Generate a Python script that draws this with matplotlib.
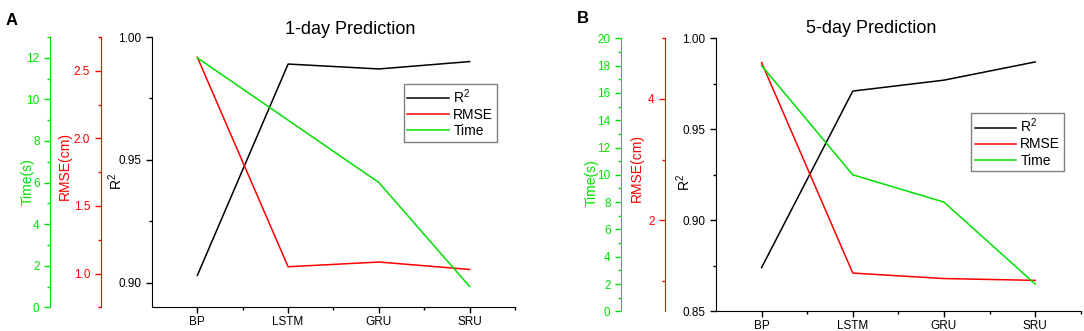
import matplotlib
matplotlib.use("Agg")
import matplotlib.pyplot as plt
from matplotlib.ticker import MultipleLocator, FixedLocator

plt.rcParams.update({"font.family": ["Liberation Sans", "DejaVu Sans"],
                     "mathtext.default": "regular"})

models = ["BP", "LSTM", "GRU", "SRU"]

# 1-day prediction
r2_1day = [0.903, 0.989, 0.987, 0.990]
rmse_1day = [2.60, 1.05, 1.085, 1.03]
time_1day = [12.0, 9.0, 6.0, 1.0]

# 5-day prediction
r2_5day = [0.874, 0.971, 0.977, 0.987]
rmse_5day = [4.60, 1.13, 1.04, 1.01]
time_5day = [18.0, 10.0, 8.0, 2.0]

GREEN = "#00e000"
RED = "#ff0000"

fig = plt.figure(figsize=(10.84, 3.31), dpi=100)


def panel(rect, r2, rmse, tm, r2lim, r2maj, rmselim, rmsemaj, tmlim, tmmaj,
          pos_red, pos_green, labx, title, title_xy, letter, letter_xy, leg_xy):
    ax = fig.add_axes(rect)
    x = list(range(len(models)))
    ax_r = ax.twinx()
    ax_t = ax.twinx()
    lr, = ax.plot(x, r2, color="black", lw=1.1, label="R$^2$")
    lm, = ax_r.plot(x, rmse, color=RED, lw=1.1, label="RMSE")
    lt, = ax_t.plot(x, tm, color=GREEN, lw=1.1, label="Time")

    ax.set_xlim(-0.5, 3.5)
    ax.set_xticks(x)
    ax.set_xticklabels(models)
    ax.xaxis.set_minor_locator(FixedLocator([0.5, 1.5, 2.5, 3.5]))
    ax.set_ylim(*r2lim)
    ax.yaxis.set_major_locator(MultipleLocator(r2maj))
    ax.yaxis.set_minor_locator(MultipleLocator(r2maj / 2))
    ax.yaxis.set_major_formatter(matplotlib.ticker.StrMethodFormatter("{x:.2f}"))
    for s in ("top", "right"):
        ax.spines[s].set_visible(False)
    ax.tick_params(axis="both", which="major", labelsize=8.5, length=4, width=1)
    ax.tick_params(axis="x", which="major", pad=2.5)
    ax.tick_params(axis="both", which="minor", length=2.5, width=1)
    ax.set_ylabel("R$^2$", fontsize=10)
    ax.yaxis.set_label_coords(labx[2], labx[5])

    for a, pos, col, lim, maj, lab, lx, ly in (
            (ax_r, pos_red, RED, rmselim, rmsemaj, "RMSE(cm)", labx[1], labx[4]),
            (ax_t, pos_green, GREEN, tmlim, tmmaj, "Time(s)", labx[0], labx[3])):
        a.set_ylim(*lim)
        for s in ("top", "right", "bottom"):
            a.spines[s].set_visible(False)
        a.spines["left"].set_visible(True)
        a.spines["left"].set_position(("axes", pos))
        a.spines["left"].set_color(col)
        a.yaxis.set_ticks_position("left")
        a.yaxis.set_label_position("left")
        a.yaxis.set_major_locator(MultipleLocator(maj))
        a.yaxis.set_minor_locator(MultipleLocator(maj / 2))
        a.tick_params(axis="y", which="both", colors=col, labelsize=8.5, width=1)
        a.tick_params(axis="y", which="major", length=4)
        a.tick_params(axis="y", which="minor", length=2.5)
        a.set_ylabel(lab, color=col, fontsize=10)
        a.yaxis.set_label_coords(lx, ly)
    ax_r.yaxis.set_major_formatter(matplotlib.ticker.StrMethodFormatter(
        "{x:.1f}" if rmsemaj < 1 else "{x:.0f}"))

    fig.text(title_xy[0], title_xy[1], title, fontsize=13, ha="center", va="center")
    fig.text(letter_xy[0], letter_xy[1], letter, fontsize=12, fontweight="bold",
             ha="left", va="center")
    leg = fig.legend([lr, lm, lt], ["R$^2$", "RMSE", "Time"], loc="upper left",
                     bbox_to_anchor=leg_xy, fontsize=10, fancybox=False,
                     framealpha=1, edgecolor="#808080", handlelength=3,
                     handletextpad=0.3, borderpad=0.25, labelspacing=0.15,
                     borderaxespad=0)
    leg.get_frame().set_linewidth(1.0)
    return ax


panel([0.1402, 0.0716, 0.3349, 0.8166], r2_1day, rmse_1day, time_1day,
      (0.89, 1.0), 0.05, (0.75, 2.75), 0.5, (0, 13), 2,
      -0.1413, -0.281, (-0.324, -0.22, -0.074, 0.464, 0.523, 0.464),
      "1-day Prediction", (0.323, 0.912), "A", (0.005, 0.938), (0.3727, 0.7462))

panel([0.6605, 0.0595, 0.3365, 0.8248], r2_5day, rmse_5day, time_5day,
      (0.85, 1.0), 0.05, (0.5, 5.0), 2, (0, 20), 2,
      -0.1398, -0.2605, (-0.322, -0.197, -0.062, 0.473, 0.524, 0.473),
      "5-day Prediction", (0.8035, 0.915), "B", (0.532, 0.945), (0.8958, 0.6577))

fig.savefig("out.png", dpi=100)
